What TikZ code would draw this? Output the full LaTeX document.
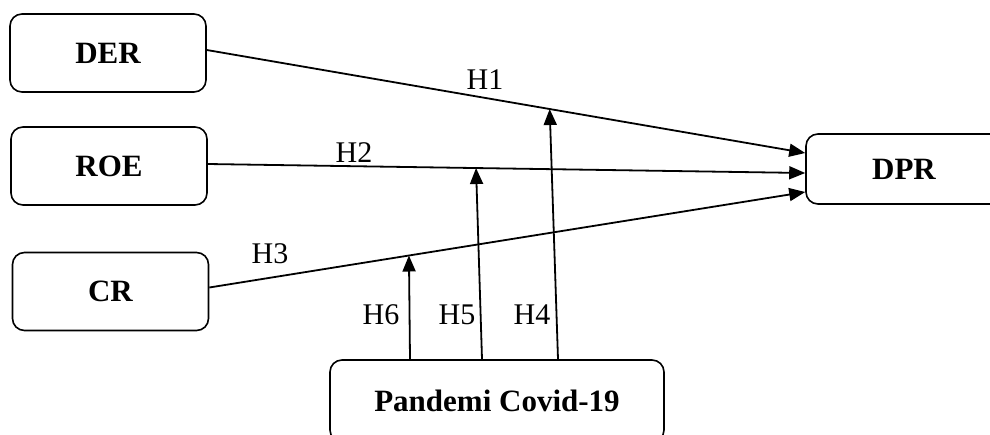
\documentclass[tikz,border=0pt]{standalone}
\usepackage{fontspec}
\setmainfont{Liberation Serif}
\usetikzlibrary{arrows.meta,calc}
\begin{document}
\begin{tikzpicture}[x=1pt,y=-1pt,
  box/.style={draw,line width=1.6pt,rounded corners=12pt,minimum width=196pt,minimum height=78pt,inner sep=0pt,font=\fontsize{31}{36}\selectfont\bfseries},
  link/.style={line width=1.8pt,-{Triangle[length=16pt,width=13pt]}},
  lab/.style={font=\fontsize{30}{34}\selectfont,inner sep=0pt}]
\useasboundingbox (0,0) rectangle (990,434);
\clip (0,0) rectangle (990,434);
\node[box] (DER) at (108,53) {DER};
\node[box] (ROE) at (109,166) {ROE};
\node[box] (CR) at (110.5,291.5) {CR};
\node[box,minimum height=70pt] (DPR) at (904,169) {DPR};
\node[box,minimum width=334pt,minimum height=82pt] (PC) at (497,401) {Pandemi Covid-19};
% start and end points
\coordinate (s1) at ([yshift=3pt]DER.east);
\coordinate (s2) at ([yshift=2pt]ROE.east);
\coordinate (s3) at ([yshift=4pt]CR.east);
\coordinate (e1) at ([yshift=16pt]DPR.west);
\coordinate (e2) at ([yshift=-4pt]DPR.west);
\coordinate (e3) at ([yshift=-23pt]DPR.west);
\draw[link] (s1) -- (e1);
\draw[link] (s2) -- (e2);
\draw[link] (s3) -- (e3);
% moderator arrows
\coordinate (t4) at ($(s1)!0.573!(e1)$);
\coordinate (t5) at ($(s2)!0.449!(e2)$);
\coordinate (t6) at ($(s3)!0.335!(e3)$);
\coordinate (b4) at ([xshift=61pt]PC.north);
\coordinate (b5) at ([xshift=-15pt]PC.north);
\coordinate (b6) at ([xshift=-87pt]PC.north);
\draw[link] (b4) -- (t4);
\draw[link] (b5) -- (t5);
\draw[link] (b6) -- (t6);
% labels
\node[lab] (h1) at (485,80) {H1};
\node[lab] (h2) at (354,153) {H2};
\node[lab] (h3) at (270,254) {H3};
\node[lab] (h4) at (532,315) {H4};
\node[lab] (h5) at (457,315) {H5};
\node[lab] (h6) at (381,315) {H6};
\end{tikzpicture}
\end{document}
